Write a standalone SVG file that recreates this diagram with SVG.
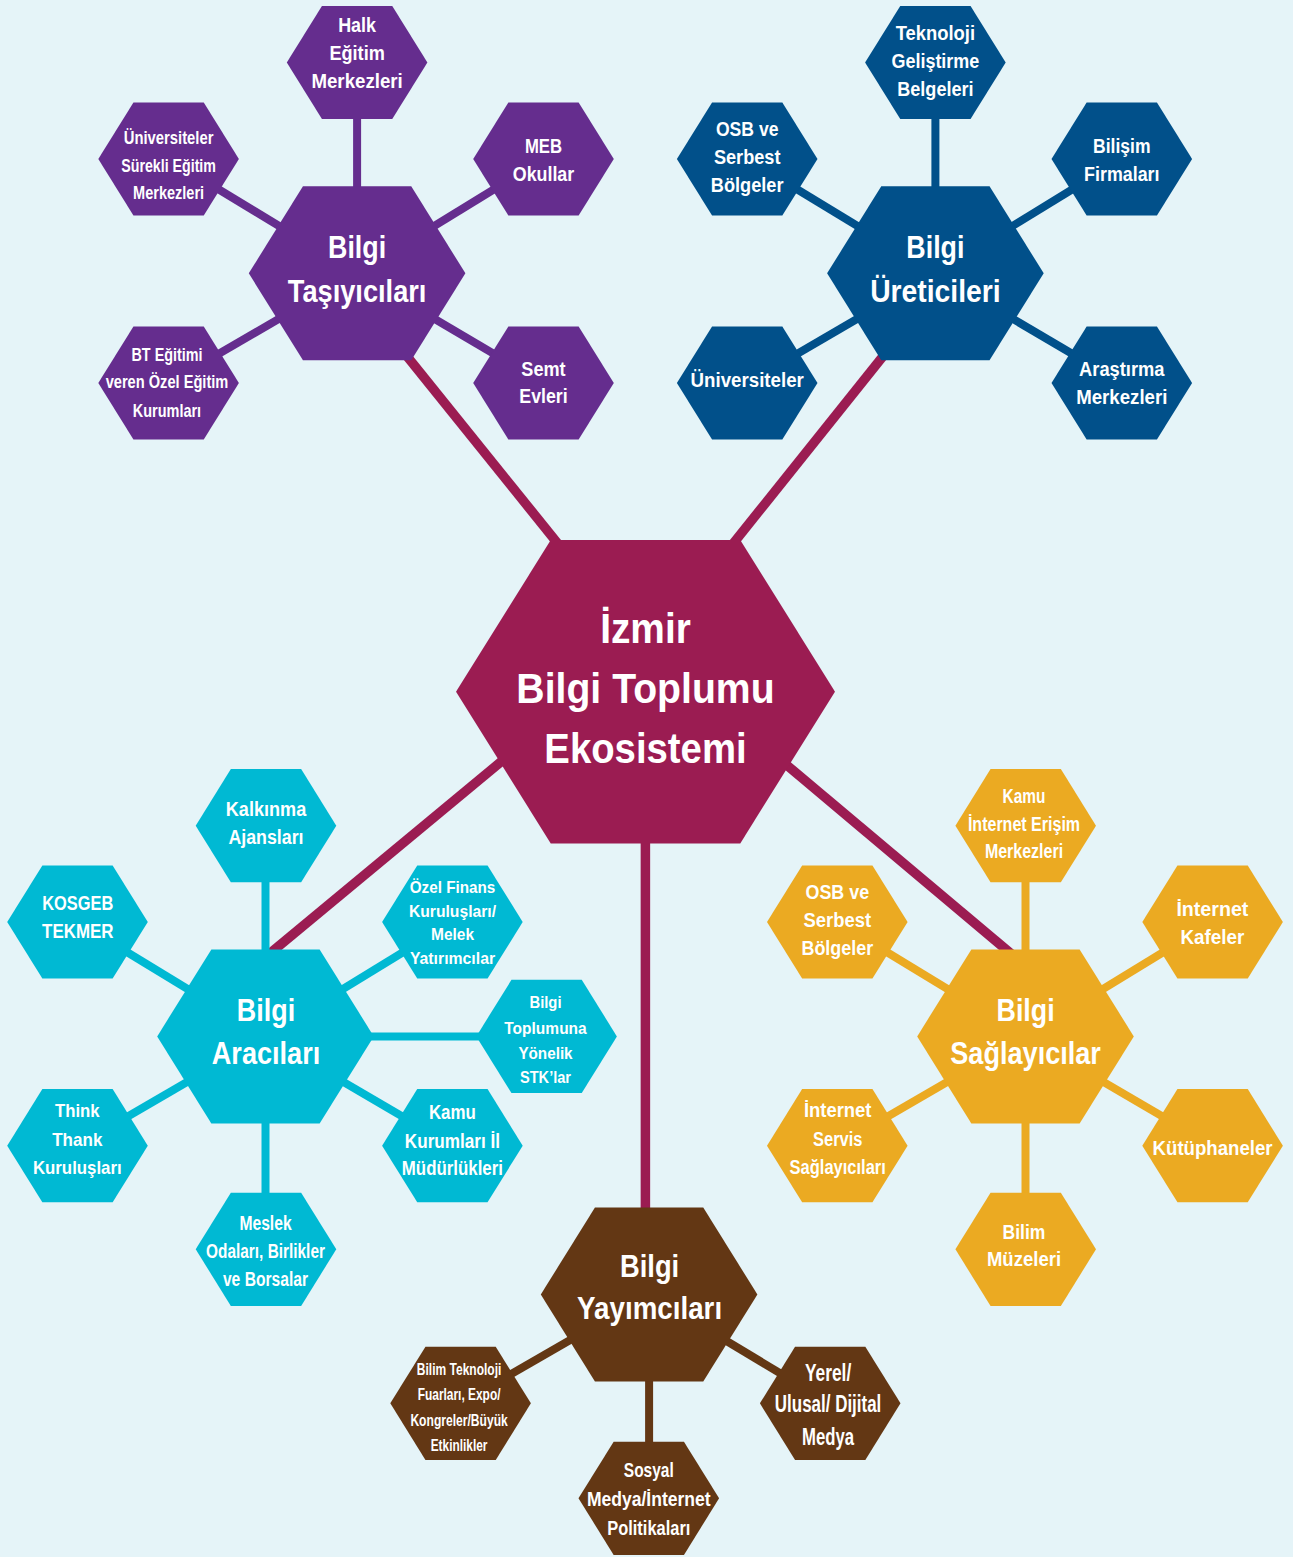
<svg xmlns="http://www.w3.org/2000/svg" xmlns:xlink="http://www.w3.org/1999/xlink" width="1293" height="1557" viewBox="0 0 1293 1557">
<style>
.bg{fill:#e5f4f8}
.main{stroke:#9b1c52;stroke-width:9.5;fill:none}
.cpu{stroke:#652d8e;stroke-width:8}
.cbl{stroke:#01508a;stroke-width:8}
.ccy{stroke:#00b9d3;stroke-width:8}
.cor{stroke:#ebaa22;stroke-width:8}
.cbr{stroke:#633714;stroke-width:8}
.fmg{fill:#9b1c52}
.fpu{fill:#652d8e}
.fbl{fill:#01508a}
.fcy{fill:#00b9d3}
.for{fill:#ebaa22}
.fbr{fill:#633714}
text{font-family:"Liberation Sans",Arial,sans-serif;font-weight:bold;fill:#ffffff;text-anchor:middle}
.t0{font-size:42px}
.t1{font-size:31px}
.t2{font-size:19.5px}
.t3{font-size:18.5px}
.t4{font-size:17px}
.t5{font-size:23px}
.t6{font-size:21px}
</style>
<defs>
<polygon id="hexS" points="-70.3,0 -35.15,-56.6 35.15,-56.6 70.3,0 35.15,56.6 -35.15,56.6"/>
<polygon id="hexM" points="-108.3,0 -54.15,-87 54.15,-87 108.3,0 54.15,87 -54.15,87"/>
<polygon id="hexL" points="-189.5,0 -94.75,-151.7 94.75,-151.7 189.5,0 94.75,151.7 -94.75,151.7"/>
</defs>
<rect class="bg" x="0" y="0" width="1293" height="1557"/>

<g id="connectors">
<line class="main" x1="361.7" y1="300" x2="571" y2="560"/>
<line class="main" x1="928" y1="300" x2="720" y2="560"/>
<line class="main" x1="262" y1="960" x2="520" y2="746"/>
<line class="main" x1="1015" y1="957" x2="770" y2="751"/>
<line class="main" x1="645.4" y1="830" x2="645.4" y2="1220"/>

<line class="cpu" x1="357.1" y1="273.3" x2="357.1" y2="62.5"/>
<line class="cpu" x1="357.1" y1="273.3" x2="168.6" y2="159"/>
<line class="cpu" x1="357.1" y1="273.3" x2="543.5" y2="159"/>
<line class="cpu" x1="357.1" y1="273.3" x2="168.6" y2="383"/>
<line class="cpu" x1="357.1" y1="273.3" x2="543.5" y2="383"/>

<line class="cbl" x1="935.4" y1="273.3" x2="935.4" y2="62.5"/>
<line class="cbl" x1="935.4" y1="273.3" x2="747.2" y2="159"/>
<line class="cbl" x1="935.4" y1="273.3" x2="1121.8" y2="159"/>
<line class="cbl" x1="935.4" y1="273.3" x2="747.2" y2="383"/>
<line class="cbl" x1="935.4" y1="273.3" x2="1121.8" y2="383"/>

<line class="ccy" x1="265.5" y1="1036.4" x2="265.5" y2="825.7"/>
<line class="ccy" x1="265.5" y1="1036.4" x2="77.5" y2="922"/>
<line class="ccy" x1="265.5" y1="1036.4" x2="452.4" y2="922"/>
<line class="ccy" x1="265.5" y1="1036.4" x2="546.6" y2="1036.4"/>
<line class="ccy" x1="265.5" y1="1036.4" x2="77.5" y2="1145.7"/>
<line class="ccy" x1="265.5" y1="1036.4" x2="452.4" y2="1145.7"/>
<line class="ccy" x1="265.5" y1="1036.4" x2="265.5" y2="1249.3"/>

<line class="cor" x1="1025.5" y1="1036.4" x2="1025.5" y2="825.7"/>
<line class="cor" x1="1025.5" y1="1036.4" x2="837.3" y2="922"/>
<line class="cor" x1="1025.5" y1="1036.4" x2="1212.6" y2="922"/>
<line class="cor" x1="1025.5" y1="1036.4" x2="837.3" y2="1145.7"/>
<line class="cor" x1="1025.5" y1="1036.4" x2="1212.6" y2="1145.7"/>
<line class="cor" x1="1025.5" y1="1036.4" x2="1025.5" y2="1249.3"/>

<line class="cbr" x1="649.1" y1="1294.5" x2="460.6" y2="1403.3"/>
<line class="cbr" x1="649.1" y1="1294.5" x2="830.2" y2="1403.3"/>
<line class="cbr" x1="649.1" y1="1294.5" x2="649.1" y2="1498.3"/>
</g>

<g id="node-center">
<use xlink:href="#hexL" href="#hexL" x="645.5" y="691.7" class="fmg"/>
<text class="t0" x="645.5" y="642.7" textLength="90.7" lengthAdjust="spacingAndGlyphs">İzmir</text>
<text class="t0" x="645.5" y="703.3" textLength="258.3" lengthAdjust="spacingAndGlyphs">Bilgi Toplumu</text>
<text class="t0" x="645.5" y="763.3" textLength="202.3" lengthAdjust="spacingAndGlyphs">Ekosistemi</text>
</g>

<!-- Bilgi Taşıyıcıları -->
<g id="node-tasiyicilar">
<use xlink:href="#hexM" href="#hexM" x="357.1" y="273.3" class="fpu"/>
<text class="t1" x="357.1" y="258.3" textLength="58.1" lengthAdjust="spacingAndGlyphs">Bilgi</text>
<text class="t1" x="357.1" y="301.7" textLength="138.6" lengthAdjust="spacingAndGlyphs">Taşıyıcıları</text>
</g>
<g id="node-halk-egitim">
<use xlink:href="#hexS" href="#hexS" x="357.1" y="62.5" class="fpu"/>
<text class="t2" x="357.1" y="32.3" textLength="37.9" lengthAdjust="spacingAndGlyphs">Halk</text>
<text class="t2" x="357.1" y="60" textLength="55.4" lengthAdjust="spacingAndGlyphs">Eğitim</text>
<text class="t2" x="357.1" y="88.3" textLength="91.3" lengthAdjust="spacingAndGlyphs">Merkezleri</text>
</g>
<g id="node-univ-surekli">
<use xlink:href="#hexS" href="#hexS" x="168.6" y="159" class="fpu"/>
<text class="t3" x="168.6" y="144" textLength="89.6" lengthAdjust="spacingAndGlyphs">Üniversiteler</text>
<text class="t3" x="168.6" y="171.7" textLength="94.7" lengthAdjust="spacingAndGlyphs">Sürekli Eğitim</text>
<text class="t3" x="168.6" y="199.3" textLength="71" lengthAdjust="spacingAndGlyphs">Merkezleri</text>
</g>
<g id="node-meb">
<use xlink:href="#hexS" href="#hexS" x="543.5" y="159" class="fpu"/>
<text class="t2" x="543.5" y="153.3" textLength="37.2" lengthAdjust="spacingAndGlyphs">MEB</text>
<text class="t2" x="543.5" y="181" textLength="61.5" lengthAdjust="spacingAndGlyphs">Okullar</text>
</g>
<g id="node-bt-egitimi">
<use xlink:href="#hexS" href="#hexS" x="168.6" y="383" class="fpu"/>
<text class="t3" x="167" y="360.7" textLength="71" lengthAdjust="spacingAndGlyphs">BT Eğitimi</text>
<text class="t3" x="167" y="388.3" textLength="122.7" lengthAdjust="spacingAndGlyphs">veren Özel Eğitim</text>
<text class="t3" x="167" y="416.7" textLength="68.3" lengthAdjust="spacingAndGlyphs">Kurumları</text>
</g>
<g id="node-semt">
<use xlink:href="#hexS" href="#hexS" x="543.5" y="383" class="fpu"/>
<text class="t2" x="543.5" y="376" textLength="44.3" lengthAdjust="spacingAndGlyphs">Semt</text>
<text class="t2" x="543.5" y="403.3" textLength="48.3" lengthAdjust="spacingAndGlyphs">Evleri</text>
</g>

<!-- Bilgi Üreticileri -->
<g id="node-ureticiler">
<use xlink:href="#hexM" href="#hexM" x="935.4" y="273.3" class="fbl"/>
<text class="t1" x="935.4" y="258.3" textLength="58.1" lengthAdjust="spacingAndGlyphs">Bilgi</text>
<text class="t1" x="935.4" y="301.7" textLength="130.5" lengthAdjust="spacingAndGlyphs">Üreticileri</text>
</g>
<g id="node-teknoloji">
<use xlink:href="#hexS" href="#hexS" x="935.4" y="62.5" class="fbl"/>
<text class="t2" x="935.4" y="40" textLength="79.4" lengthAdjust="spacingAndGlyphs">Teknoloji</text>
<text class="t2" x="935.4" y="68.3" textLength="87.9" lengthAdjust="spacingAndGlyphs">Geliştirme</text>
<text class="t2" x="935.4" y="96" textLength="76.4" lengthAdjust="spacingAndGlyphs">Belgeleri</text>
</g>
<g id="node-osb-1">
<use xlink:href="#hexS" href="#hexS" x="747.2" y="159" class="fbl"/>
<text class="t2" x="747.2" y="136" textLength="62.5" lengthAdjust="spacingAndGlyphs">OSB ve</text>
<text class="t2" x="747.2" y="164.3" textLength="66.6" lengthAdjust="spacingAndGlyphs">Serbest</text>
<text class="t2" x="747.2" y="191.7" textLength="72.7" lengthAdjust="spacingAndGlyphs">Bölgeler</text>
</g>
<g id="node-bilisim">
<use xlink:href="#hexS" href="#hexS" x="1121.8" y="159" class="fbl"/>
<text class="t2" x="1121.8" y="153.3" textLength="57.5" lengthAdjust="spacingAndGlyphs">Bilişim</text>
<text class="t2" x="1121.8" y="181" textLength="75.4" lengthAdjust="spacingAndGlyphs">Firmaları</text>
</g>
<g id="node-universiteler">
<use xlink:href="#hexS" href="#hexS" x="747.2" y="383" class="fbl"/>
<text class="t2" x="747.2" y="386.7" textLength="113.3" lengthAdjust="spacingAndGlyphs">Üniversiteler</text>
</g>
<g id="node-arastirma">
<use xlink:href="#hexS" href="#hexS" x="1121.8" y="383" class="fbl"/>
<text class="t2" x="1121.8" y="376" textLength="85.5" lengthAdjust="spacingAndGlyphs">Araştırma</text>
<text class="t2" x="1121.8" y="404" textLength="91.3" lengthAdjust="spacingAndGlyphs">Merkezleri</text>
</g>

<!-- Bilgi Aracıları -->
<g id="node-aracilar">
<use xlink:href="#hexM" href="#hexM" x="265.5" y="1036.4" class="fcy"/>
<text class="t1" x="266" y="1021.4" textLength="58.3" lengthAdjust="spacingAndGlyphs">Bilgi</text>
<text class="t1" x="266" y="1064.3" textLength="108.5" lengthAdjust="spacingAndGlyphs">Aracıları</text>
</g>
<g id="node-kalkinma">
<use xlink:href="#hexS" href="#hexS" x="266" y="825.7" class="fcy"/>
<text class="t2" x="266" y="816.4" textLength="80.4" lengthAdjust="spacingAndGlyphs">Kalkınma</text>
<text class="t2" x="266" y="843.9" textLength="75.1" lengthAdjust="spacingAndGlyphs">Ajansları</text>
</g>
<g id="node-kosgeb">
<use xlink:href="#hexS" href="#hexS" x="77.5" y="922" class="fcy"/>
<text class="t2" x="77.8" y="910" textLength="71.1" lengthAdjust="spacingAndGlyphs">KOSGEB</text>
<text class="t2" x="77.8" y="937.5" textLength="71.5" lengthAdjust="spacingAndGlyphs">TEKMER</text>
</g>
<g id="node-ozel-finans">
<use xlink:href="#hexS" href="#hexS" x="452.4" y="922" class="fcy"/>
<text class="t4" x="452.5" y="892.9" textLength="85.6" lengthAdjust="spacingAndGlyphs">Özel Finans</text>
<text class="t4" x="452.5" y="917.1" textLength="87.2" lengthAdjust="spacingAndGlyphs">Kuruluşları/</text>
<text class="t4" x="452.5" y="940.4" textLength="43" lengthAdjust="spacingAndGlyphs">Melek</text>
<text class="t4" x="452.5" y="963.6" textLength="85.2" lengthAdjust="spacingAndGlyphs">Yatırımcılar</text>
</g>
<g id="node-stk">
<use xlink:href="#hexS" href="#hexS" x="546.6" y="1036.4" class="fcy"/>
<text class="t4" x="545.5" y="1008.2" textLength="32.1" lengthAdjust="spacingAndGlyphs">Bilgi</text>
<text class="t4" x="545.5" y="1034" textLength="82.4" lengthAdjust="spacingAndGlyphs">Toplumuna</text>
<text class="t4" x="545.5" y="1059" textLength="54.2" lengthAdjust="spacingAndGlyphs">Yönelik</text>
<text class="t4" x="545.5" y="1083.2" textLength="51" lengthAdjust="spacingAndGlyphs">STK’lar</text>
</g>
<g id="node-think-thank">
<use xlink:href="#hexS" href="#hexS" x="77.5" y="1145.7" class="fcy"/>
<text class="t3" x="77.3" y="1117.1" textLength="44.6" lengthAdjust="spacingAndGlyphs">Think</text>
<text class="t3" x="77.3" y="1145.7" textLength="50.2" lengthAdjust="spacingAndGlyphs">Thank</text>
<text class="t3" x="77.3" y="1174.3" textLength="88.8" lengthAdjust="spacingAndGlyphs">Kuruluşları</text>
</g>
<g id="node-kamu-kurumlari">
<use xlink:href="#hexS" href="#hexS" x="452.4" y="1145.7" class="fcy"/>
<text class="t2" x="452.4" y="1119" textLength="47" lengthAdjust="spacingAndGlyphs">Kamu</text>
<text class="t2" x="452.4" y="1147.5" textLength="95.2" lengthAdjust="spacingAndGlyphs">Kurumları İl</text>
<text class="t2" x="452.4" y="1175" textLength="101.2" lengthAdjust="spacingAndGlyphs">Müdürlükleri</text>
</g>
<g id="node-meslek">
<use xlink:href="#hexS" href="#hexS" x="266" y="1249.3" class="fcy"/>
<text class="t2" x="265.5" y="1229.6" textLength="52.2" lengthAdjust="spacingAndGlyphs">Meslek</text>
<text class="t2" x="265.5" y="1258.2" textLength="118.9" lengthAdjust="spacingAndGlyphs">Odaları, Birlikler</text>
<text class="t2" x="265.5" y="1286" textLength="85.2" lengthAdjust="spacingAndGlyphs">ve Borsalar</text>
</g>

<!-- Bilgi Sağlayıcılar -->
<g id="node-saglayicilar">
<use xlink:href="#hexM" href="#hexM" x="1025.5" y="1036.4" class="for"/>
<text class="t1" x="1025.6" y="1020.7" textLength="58.1" lengthAdjust="spacingAndGlyphs">Bilgi</text>
<text class="t1" x="1025.6" y="1064.3" textLength="150.6" lengthAdjust="spacingAndGlyphs">Sağlayıcılar</text>
</g>
<g id="node-kamu-internet">
<use xlink:href="#hexS" href="#hexS" x="1025.7" y="825.7" class="for"/>
<text class="t2" x="1024" y="802.9" textLength="42.8" lengthAdjust="spacingAndGlyphs">Kamu</text>
<text class="t2" x="1024" y="830.7" textLength="112.2" lengthAdjust="spacingAndGlyphs">İnternet Erişim</text>
<text class="t2" x="1024" y="858.2" textLength="78.2" lengthAdjust="spacingAndGlyphs">Merkezleri</text>
</g>
<g id="node-osb-2">
<use xlink:href="#hexS" href="#hexS" x="837.3" y="922" class="for"/>
<text class="t2" x="837.3" y="898.6" textLength="63.6" lengthAdjust="spacingAndGlyphs">OSB ve</text>
<text class="t2" x="837.3" y="927.1" textLength="67.6" lengthAdjust="spacingAndGlyphs">Serbest</text>
<text class="t2" x="837.3" y="954.6" textLength="71.7" lengthAdjust="spacingAndGlyphs">Bölgeler</text>
</g>
<g id="node-internet-kafeler">
<use xlink:href="#hexS" href="#hexS" x="1212.6" y="922" class="for"/>
<text class="t2" x="1212.4" y="916" textLength="72" lengthAdjust="spacingAndGlyphs">İnternet</text>
<text class="t2" x="1212.4" y="944" textLength="63.9" lengthAdjust="spacingAndGlyphs">Kafeler</text>
</g>
<g id="node-internet-servis">
<use xlink:href="#hexS" href="#hexS" x="837.3" y="1145.7" class="for"/>
<text class="t2" x="837.7" y="1117.1" textLength="67.6" lengthAdjust="spacingAndGlyphs">İnternet</text>
<text class="t2" x="837.7" y="1145.7" textLength="49.3" lengthAdjust="spacingAndGlyphs">Servis</text>
<text class="t2" x="837.7" y="1173.6" textLength="96.2" lengthAdjust="spacingAndGlyphs">Sağlayıcıları</text>
</g>
<g id="node-kutuphaneler">
<use xlink:href="#hexS" href="#hexS" x="1212.6" y="1145.7" class="for"/>
<text class="t2" x="1212.6" y="1154.6" textLength="120" lengthAdjust="spacingAndGlyphs">Kütüphaneler</text>
</g>
<g id="node-bilim-muzeleri">
<use xlink:href="#hexS" href="#hexS" x="1025.7" y="1249.3" class="for"/>
<text class="t2" x="1024" y="1238.6" textLength="42.8" lengthAdjust="spacingAndGlyphs">Bilim</text>
<text class="t2" x="1024" y="1266.4" textLength="74.1" lengthAdjust="spacingAndGlyphs">Müzeleri</text>
</g>

<!-- Bilgi Yayımcıları -->
<g id="node-yayimcilar">
<use xlink:href="#hexM" href="#hexM" x="649.1" y="1294.5" class="fbr"/>
<text class="t1" x="649.6" y="1276.7" textLength="59.2" lengthAdjust="spacingAndGlyphs">Bilgi</text>
<text class="t1" x="649.6" y="1319.3" textLength="145" lengthAdjust="spacingAndGlyphs">Yayımcıları</text>
</g>
<g id="node-fuarlar">
<use xlink:href="#hexS" href="#hexS" x="460.6" y="1403.3" class="fbr"/>
<text class="t4" x="459.1" y="1375" textLength="84.5" lengthAdjust="spacingAndGlyphs">Bilim Teknoloji</text>
<text class="t4" x="459.1" y="1400" textLength="82.8" lengthAdjust="spacingAndGlyphs">Fuarları, Expo/</text>
<text class="t4" x="459.1" y="1425.7" textLength="97.4" lengthAdjust="spacingAndGlyphs">Kongreler/Büyük</text>
<text class="t4" x="459.1" y="1450.7" textLength="56.8" lengthAdjust="spacingAndGlyphs">Etkinlikler</text>
</g>
<g id="node-medya">
<use xlink:href="#hexS" href="#hexS" x="830.2" y="1403.3" class="fbr"/>
<text class="t5" x="828.1" y="1380.7" textLength="46.3" lengthAdjust="spacingAndGlyphs">Yerel/</text>
<text class="t5" x="828.1" y="1412.3" textLength="106.5" lengthAdjust="spacingAndGlyphs">Ulusal/ Dijital</text>
<text class="t5" x="828.1" y="1445" textLength="52.1" lengthAdjust="spacingAndGlyphs">Medya</text>
</g>
<g id="node-sosyal-medya">
<use xlink:href="#hexS" href="#hexS" x="648.8" y="1498.3" class="fbr"/>
<text class="t6" x="648.8" y="1476.7" textLength="50" lengthAdjust="spacingAndGlyphs">Sosyal</text>
<text class="t6" x="648.8" y="1506" textLength="123.7" lengthAdjust="spacingAndGlyphs">Medya/İnternet</text>
<text class="t6" x="648.8" y="1535" textLength="83.1" lengthAdjust="spacingAndGlyphs">Politikaları</text>
</g>
</svg>
